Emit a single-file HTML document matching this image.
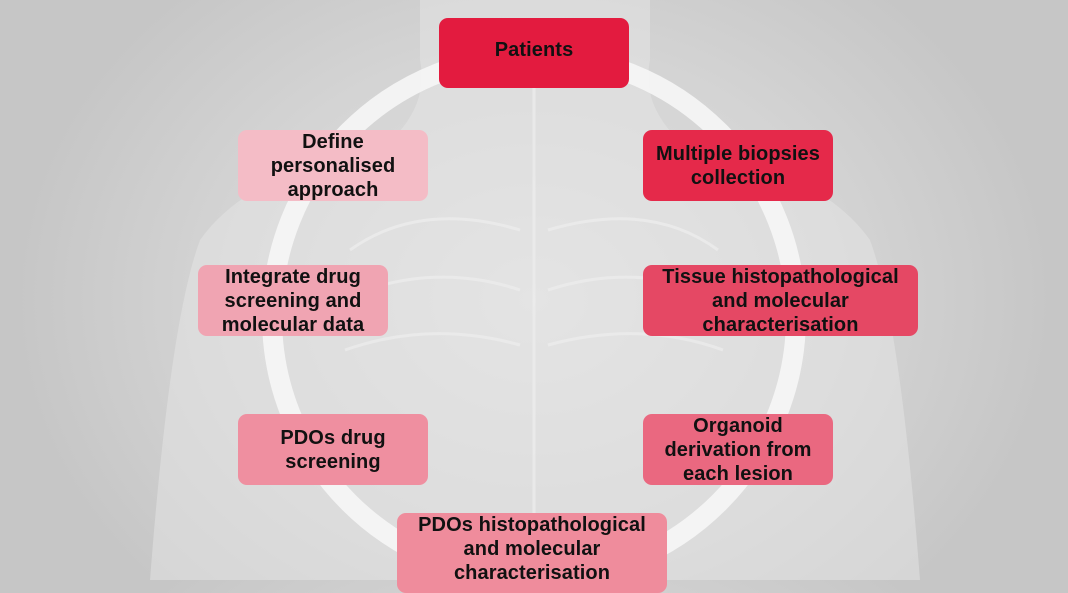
<!DOCTYPE html>
<html><head><meta charset="utf-8"><style>
html,body{margin:0;padding:0}
body{width:1068px;height:580px;overflow:hidden;position:relative;font-family:"Liberation Sans",sans-serif;
background:radial-gradient(ellipse 520px 420px at 534px 300px,#e2e2e2 0%,#d4d4d4 60%,#c6c6c6 100%);}
.b{position:absolute;border-radius:9px;display:flex;align-items:center;justify-content:center;text-align:center;font-weight:bold;font-size:20px;line-height:24px;letter-spacing:0.1px;color:#111;box-sizing:border-box;padding:0 4px;white-space:nowrap}
svg{position:absolute;left:0;top:0}
</style></head><body>
<svg width="1068" height="580">
 <g fill="#e6e6e6" opacity="0.5">
  <path d="M420 0 L420 60 Q430 110 380 150 Q250 170 200 240 Q170 320 150 580 L920 580 Q900 320 870 240 Q820 170 690 150 Q640 110 650 60 L650 0 Z"/>
 </g>
 <g fill="none" stroke="#f0f0f0" stroke-width="3" opacity="0.6">
  <path d="M534 60 L534 580"/>
  <path d="M350 250 Q420 200 520 230 M718 250 Q650 200 548 230"/>
  <path d="M340 300 Q430 260 520 290 M728 300 Q640 260 548 290"/>
  <path d="M345 350 Q430 320 520 345 M723 350 Q640 320 548 345"/>
 </g>
 <circle cx="534" cy="317" r="262" fill="none" stroke="#f6f6f6" stroke-width="20" opacity="0.9"/>
</svg>
<div class="b" style="left:439px;top:18px;width:190px;height:70px;background:#e31b3f;padding-bottom:7px">Patients</div>
<div class="b" style="left:238px;top:130px;width:190px;height:71px;background:#f4bcc6">Define<br>personalised<br>approach</div>
<div class="b" style="left:643px;top:130px;width:190px;height:71px;background:#e5294a">Multiple biopsies<br>collection</div>
<div class="b" style="left:198px;top:265px;width:190px;height:71px;background:#f0a4b2">Integrate drug<br>screening and<br>molecular data</div>
<div class="b" style="left:643px;top:265px;width:275px;height:71px;background:#e54864">Tissue histopathological<br>and molecular<br>characterisation</div>
<div class="b" style="left:238px;top:414px;width:190px;height:71px;background:#ef8fa0">PDOs drug<br>screening</div>
<div class="b" style="left:643px;top:414px;width:190px;height:71px;background:#ea6880">Organoid<br>derivation from<br>each lesion</div>
<div class="b" style="left:397px;top:513px;width:270px;height:80px;background:#ef8c9c;align-items:flex-start;padding-top:0px">PDOs histopathological<br>and molecular<br>characterisation</div>
</body></html>
